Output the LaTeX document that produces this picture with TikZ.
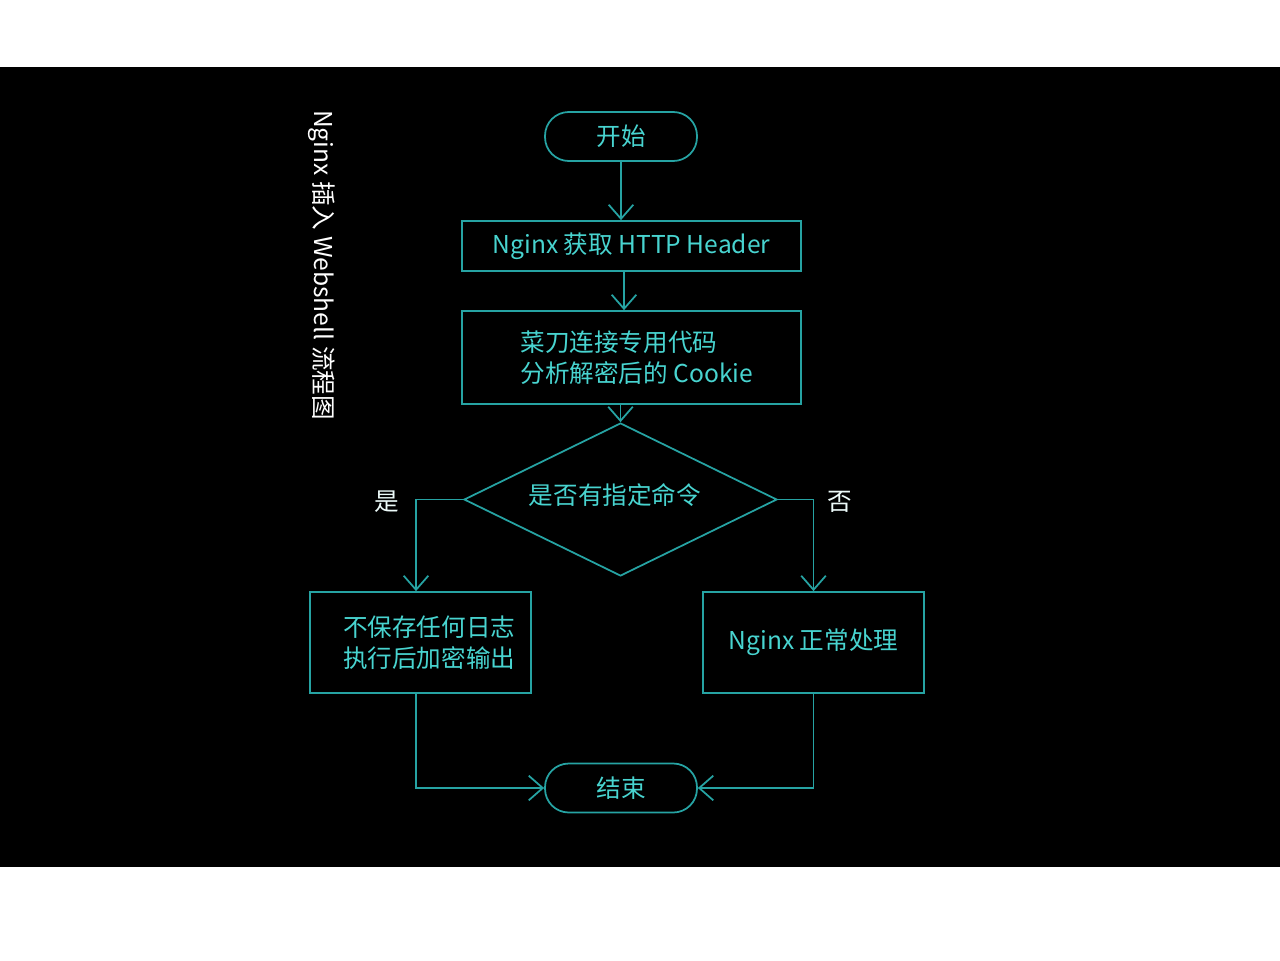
\documentclass[tikz,border=0pt]{standalone}
\usepackage{fontspec}
\setmainfont{Noto Sans CJK SC}
\usetikzlibrary{arrows.meta,shapes.geometric}
\definecolor{lineC}{HTML}{26A3A3}
\definecolor{textC}{HTML}{48D4D0}
\tikzset{
  flowline/.style={draw=lineC, line width=1pt},
  arr/.style={flowline, -{Straight Barb[length=8pt,width=14pt,line width=1pt]}},
  terminal/.style={flowline, rounded corners=13.5pt, minimum width=3.04cm, minimum height=0.98cm, inner sep=0pt, text=textC, font=\fontsize{14}{17}\selectfont},
  procbox/.style={flowline, inner sep=0pt, text=textC, font=\fontsize{14}{18}\selectfont},
  decision/.style={flowline, diamond, aspect=2, inner sep=0pt, minimum width=6.26cm, minimum height=3.06cm},
  dectxt/.style={text=textC, font=\fontsize{14}{17}\selectfont},
  branchlabel/.style={text=white!90!textC, font=\fontsize{14}{17}\selectfont},
}
\begin{document}
\begin{tikzpicture}[x=0.02cm,y=-0.02cm]
\useasboundingbox (0,0) rectangle (1280,960);
\fill[white] (0,0) rectangle (1280,960);
\fill[black] (0,67) rectangle (1280,867);

\node[rotate=-90, text=white, font=\fontsize{14}{16}\selectfont] (title) at (322,265) {Nginx 插入 Webshell 流程图};

\node[terminal] (start) at (621,136.5) {开始};
\node[procbox, minimum width=6.78cm, minimum height=1.0cm] (hdr) at (631.5,246) {Nginx 获取 HTTP Header};
\node[procbox, minimum width=6.78cm, minimum height=1.86cm, align=left] (ana) at (631.5,357.5) {\hspace*{6pt}菜刀连接专用代码\\\hspace*{6pt}分析解密后的 Cookie};
\node[decision] (dec) at (620.5,499.5) {};
\node[dectxt] (dectext) at (615,495) {是否有指定命令};
\node[procbox, minimum width=4.42cm, minimum height=2.02cm, align=left] (yes) at (420.5,642.5) {\hspace*{10pt}不保存任何日志\\\hspace*{10pt}执行后加密输出};
\node[procbox, minimum width=4.42cm, minimum height=2.02cm] (no) at (813.5,642.5) {Nginx 正常处理};
\node[terminal] (end) at (621,788) {结束};

\node[branchlabel] (lyes) at (387,502) {是};
\node[branchlabel] (lno) at (840,502) {否};

\draw[arr] (start.south) -- (hdr.north -| start.south);
\draw[arr] (hdr.south -| 624,0) -- (ana.north -| 624,0);
\draw[arr] (ana.south -| dec.north) -- (dec.north);
\draw[arr] (dec.west) -| (yes.north -| 416,0);
\draw[arr] (dec.east) -| (no.north);
\draw[arr] (yes.south -| 416,0) |- (end.west);
\draw[arr] (no.south) |- (end.east);
\end{tikzpicture}
\end{document}
